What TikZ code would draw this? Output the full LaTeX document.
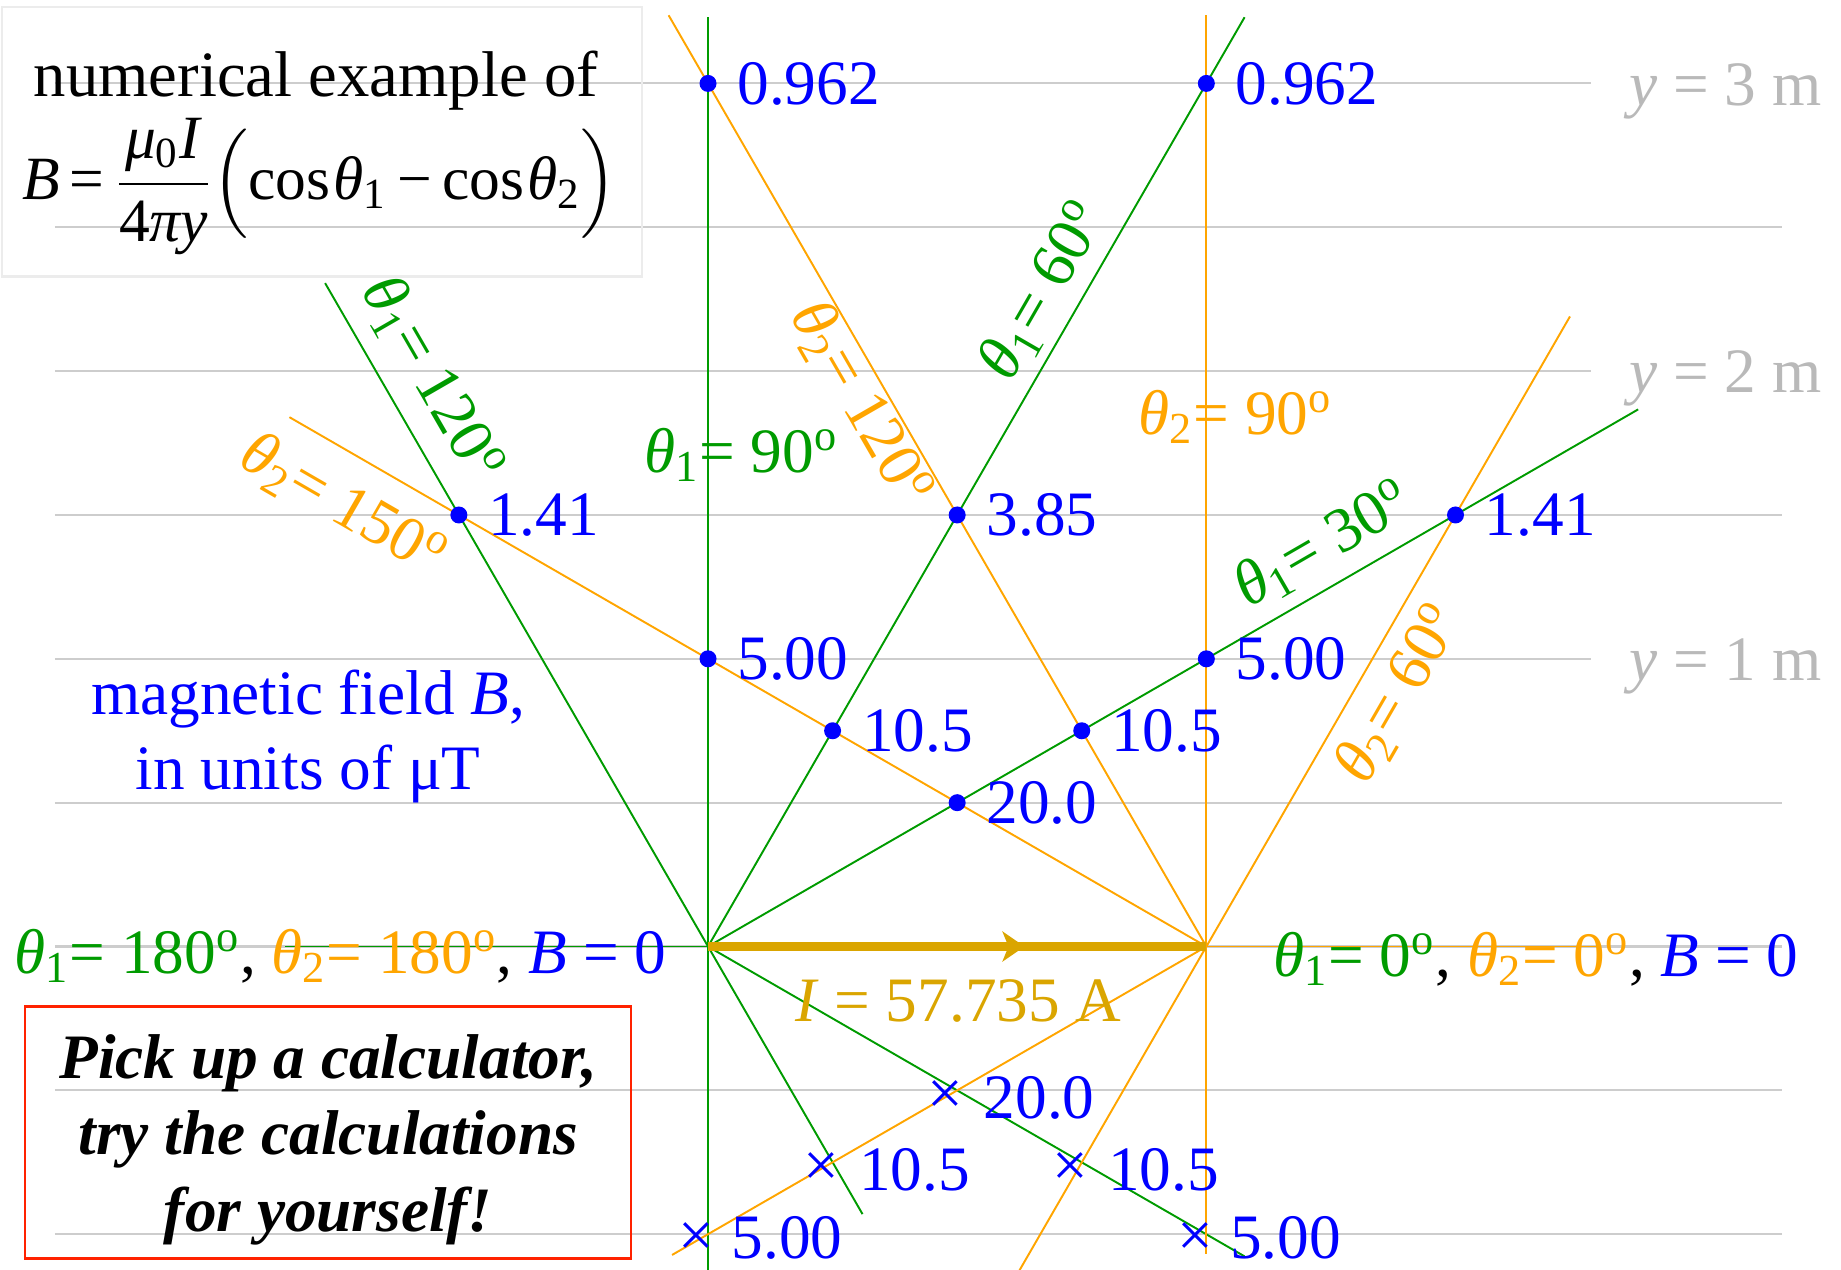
\documentclass[tikz,border=0pt]{standalone}
\usepackage{amsmath}
\usepackage{fontspec}
\setmainfont{Liberation Serif}
\usetikzlibrary{arrows.meta}
\definecolor{gr}{RGB}{0,155,0}
\definecolor{orng}{RGB}{255,165,0}
\definecolor{bl}{RGB}{0,0,255}
\definecolor{gold}{RGB}{218,165,0}
\definecolor{gridc}{RGB}{205,205,205}
\definecolor{glab}{RGB}{185,185,185}
\definecolor{redb}{RGB}{255,34,0}
\definecolor{boxg}{RGB}{236,236,236}
\newcommand{\thone}{\textit{θ}\textsubscript{1}}
\newcommand{\thtwo}{\textit{θ}\textsubscript{2}}
\newcommand{\dg}{\textsuperscript{o}}
\begin{document}
\begin{tikzpicture}[x=2.877cm,y=2.877cm,
  txt/.style={inner sep=0pt, font=\fontsize{18}{21.6}\selectfont},
  num/.style={txt, text=bl, anchor=west},
  crossmark/.style={txt, text=bl},
  gridline/.style={draw=gridc, line width=0.6pt},
  gline/.style={draw=gr, line width=0.55pt},
  oline/.style={draw=orng, line width=0.55pt},
  wire/.style={draw=gold, line width=2.8pt},
  ylab/.style={txt, text=glab, anchor=base west},
  dotp/.style={fill=bl}]
\useasboundingbox (-2.461,-1.121) rectangle (3.938,3.290);

% grid lines
\foreach \yy in {2.5,1.5,0.5,0,-0.5,-1}{
  \draw[gridline] (-2.27,\yy) -- (3.733,\yy);
}
\foreach \yy in {3,2,1}{
  \draw[gridline] (-2.27,\yy) -- (3.069,\yy);
}
\node[ylab] (y3) at (3.2,2.925) {\textit{y} = 3 m};
\node[ylab] (y2) at (3.2,1.925) {\textit{y} = 2 m};
\node[ylab] (y1) at (3.2,0.925) {\textit{y} = 1 m};

% wire ends
\coordinate (A) at (0,0);
\coordinate (B) at (1.7321,0);

% green lines (theta1, from A)
\coordinate (gTop) at (0,3.23);
\coordinate (gBot) at (0,-1.13);
\coordinate (g60) at (1.865,3.23);
\coordinate (g120a) at (-1.331,2.306);
\coordinate (g120b) at (0.537,-0.93);
\coordinate (g30) at (3.233,1.867);
\coordinate (gm30) at (1.865,-1.077);
\coordinate (g180) at (-1.47,0);
\draw[gline] (gTop) -- (gBot);
\draw[gline] (A) -- (g60);
\draw[gline] (g120a) -- (g120b);
\draw[gline] (A) -- (g30);
\draw[gline] (A) -- (gm30);
\draw[gline] (g180) -- (A);

% orange lines (theta2, from B)
\coordinate (oTop) at (1.7321,3.237);
\coordinate (oBot) at (1.7321,-1.07);
\coordinate (o120) at (-0.137,3.237);
\coordinate (o60a) at (2.996,2.19);
\coordinate (o60b) at (1.08,-1.13);
\coordinate (o150) at (-1.455,1.84);
\coordinate (o210) at (-0.125,-1.072);
\coordinate (o0) at (3.10,0);
\draw[oline] (oTop) -- (oBot);
\draw[oline] (B) -- (o120);
\draw[oline] (o60b) -- (o60a);
\draw[oline] (B) -- (o150);
\draw[oline] (B) -- (o210);
\draw[oline] (B) -- (o0);

% wire with arrow
\coordinate (Amid) at (1.10,0);
\draw[wire] (A) -- (B);
\draw[wire, -{Stealth[length=0.22cm,width=0.3cm,inset=0.06cm]}] (A) -- (Amid);
\node[txt, text=gold, anchor=base] (cur) at (0.87,-0.26) {\textit{I} = 57.735 A};

% field points above
\coordinate (p1) at (0,3);
\coordinate (p2) at (1.7321,3);
\coordinate (p3) at (0.8660,1.5);
\coordinate (p4) at (-0.8660,1.5);
\coordinate (p5) at (2.5981,1.5);
\coordinate (p6) at (0,1);
\coordinate (p7) at (1.7321,1);
\coordinate (p8) at (0.4330,0.75);
\coordinate (p9) at (1.2990,0.75);
\coordinate (p10) at (0.8660,0.5);
\foreach \p in {p1,p2,p3,p4,p5,p6,p7,p8,p9,p10}{
  \fill[dotp] (\p) circle[radius=0.085cm];
}
\path (p1) ++(0.1,0) node[num] (l1) {0.962};
\path (p2) ++(0.1,0) node[num] (l2) {0.962};
\path (p3) ++(0.1,0) node[num] (l3) {3.85};
\path (p4) ++(0.1,0) node[num] (l4) {1.41};
\path (p5) ++(0.1,0) node[num] (l5) {1.41};
\path (p6) ++(0.1,0) node[num] (l6) {5.00};
\path (p7) ++(0.1,0) node[num] (l7) {5.00};
\path (p8) ++(0.1,0) node[num] (l8) {10.5};
\path (p9) ++(0.1,0) node[num] (l9) {10.5};
\path (p10) ++(0.1,0) node[num] (l10) {20.0};

% field points below (into the page)
\coordinate (q1) at (0.8660,-0.5);
\coordinate (q2) at (0.4330,-0.75);
\coordinate (q3) at (1.2990,-0.75);
\coordinate (q4) at (0,-1);
\coordinate (q5) at (1.7321,-1);
\path (q1) ++(-0.04,-0.025) node[crossmark] (x1) {×};
\path (q2) ++(-0.04,-0.025) node[crossmark] (x2) {×};
\path (q3) ++(-0.04,-0.025) node[crossmark] (x3) {×};
\path (q4) ++(-0.04,-0.02) node[crossmark] (x4) {×};
\path (q5) ++(-0.04,-0.02) node[crossmark] (x5) {×};
\path (q1) ++(0.09,-0.025) node[num] (m1) {20.0};
\path (q2) ++(0.09,-0.025) node[num] (m2) {10.5};
\path (q3) ++(0.09,-0.025) node[num] (m3) {10.5};
\path (q4) ++(0.08,-0.012) node[num] (m4) {5.00};
\path (q5) ++(0.08,-0.012) node[num] (m5) {5.00};

% angle labels
\node[txt, text=gr, anchor=base west] (a90g) at (-0.224,1.649) {\thone= 90\dg};
\node[txt, text=orng, anchor=base west] (a90o) at (1.494,1.78) {\thtwo= 90\dg};
\node[txt, text=gr, rotate=-60] (a120g) at (-0.959,1.971) {\thone= 120\dg};
\node[txt, text=orng, rotate=-30] (a150o) at (-1.269,1.531) {\thtwo= 150\dg};
\node[txt, text=gr, rotate=60] (a60g) at (1.167,2.278) {\thone= 60\dg};
\node[txt, text=orng, rotate=-60] (a120o) at (0.531,1.886) {\thtwo= 120\dg};
\node[txt, text=gr, rotate=30] (a30g) at (2.139,1.396) {\thone= 30\dg};
\node[txt, text=orng, rotate=60] (a60o) at (2.404,0.878) {\thtwo= 60\dg};

\node[txt, anchor=base west] (left0) at (-2.412,-0.094)
  {{\color{gr}\thone= 180\dg}, {\color{orng}\thtwo= 180\dg}, {\color{bl}\textit{B} = 0}};
\node[txt, anchor=base west] (right0) at (1.963,-0.104)
  {{\color{gr}\thone= 0\dg}, {\color{orng}\thtwo= 0\dg}, {\color{bl}\textit{B} = 0}};

% legend for units
\node[txt, text=bl, anchor=base] (unit1) at (-1.39,0.806) {magnetic field \textit{B},};
\node[txt, text=bl, anchor=base] (unit2) at (-1.39,0.546) {in units of μT};

% formula box
\draw[boxg, line width=0.6pt] (-2.454,2.329) rectangle (-0.229,3.267);
\node[txt, anchor=base, font=\fontsize{18.4}{22}\selectfont] (title) at (-1.363,2.954) {numerical example of};
\node[txt, anchor=base, font=\fontsize{17.5}{21}\selectfont] (formula) at (-1.35,2.597)
  {\textit{B}\,=\,$\dfrac{\mbox{\textit{μ}\textsubscript{0}\textit{I}}}{\mbox{4\textit{πy}}}$$\Big($cos\kern0.05em\textit{θ}\textsubscript{1}\,−\,cos\kern0.05em\textit{θ}\textsubscript{2}$\Big)$};

% calculator box
\draw[redb, line width=0.8pt] (-2.374,-0.209) rectangle (-0.268,-1.084);
\node[txt, anchor=base] (calc1) at (-1.32,-0.459) {\textbf{\textit{Pick up a calculator,}}};
\node[txt, anchor=base] (calc2) at (-1.32,-0.723) {\textbf{\textit{try the calculations}}};
\node[txt, anchor=base] (calc3) at (-1.32,-0.99) {\textbf{\textit{for yourself!}}};
\end{tikzpicture}
\end{document}
